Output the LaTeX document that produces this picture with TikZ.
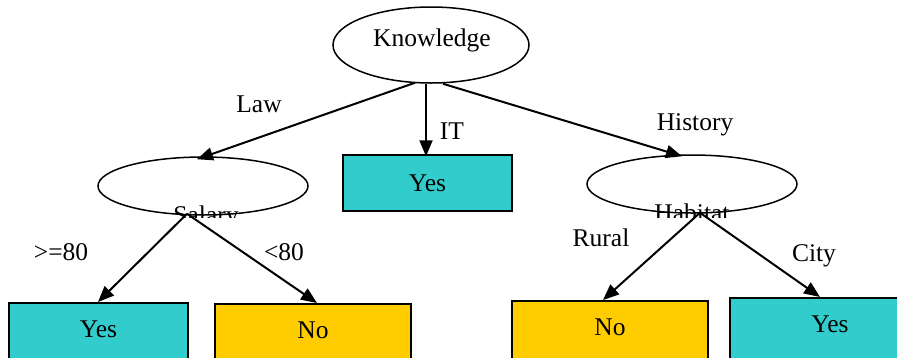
\documentclass[tikz,border=0pt]{standalone}
\usepackage{fontspec}
\setmainfont{Liberation Serif}
\usetikzlibrary{shapes.geometric,arrows.meta}
\definecolor{teal}{HTML}{33CCCC}
\definecolor{gold}{HTML}{FFCC00}
\begin{document}
\begin{tikzpicture}[x=1pt,y=-1pt,
  every node/.style={font=\fontsize{25.5}{30}\selectfont},
  ell/.style={ellipse,draw,line width=1.5pt,inner sep=0pt,fill=white},
  leaf/.style={rectangle,draw,line width=1.5pt,inner sep=0pt,minimum height=56pt},
  cutleaf/.style={rectangle,draw,line width=1.5pt,inner sep=0pt,anchor=north,text height=35pt,text depth=32pt},
  yesbox/.style={leaf,fill=teal},
  arr/.style={line width=2pt,-{Triangle[length=16pt,width=13pt]}},
  lbl/.style={inner sep=0pt}]
\useasboundingbox (0,0) rectangle (897,357);
\clip (0,0) rectangle (897,357);
% nodes
\node[ell,minimum width=196pt,minimum height=76pt] (know) at (431,45) {};
\node (knowtext) at (432,40) {Knowledge};
\node[ell,minimum width=210pt,minimum height=58pt] (salary) at (203,186) {};
\node[ell,minimum width=210pt,minimum height=58pt] (habitat) at (692,184) {};
\begin{scope}
  \clip (0,150) rectangle (897,217);
  \node[lbl,anchor=north] (salarytext) at (206,206) {Salary};
  \node[lbl,anchor=north] (habitattext) at (692,204) {Habitat};
\end{scope}
\node[yesbox,minimum width=169pt] (it) at (427.5,183) {Yes};
\node[cutleaf,fill=teal,minimum width=179pt] (yes1) at (98.5,302) {Yes};
\node[cutleaf,fill=gold,minimum width=196pt] (no1) at (313,303) {No};
\node[cutleaf,fill=gold,minimum width=196pt] (no2) at (610,300) {No};
\node[cutleaf,fill=teal,minimum width=200pt] (yes2) at (830,297) {Yes};
% connectors
\draw[arr] ([xshift=-16pt,yshift=1pt]know.south) -- ([xshift=-6pt,yshift=-3pt]salary.north);
\draw[arr] ([xshift=-5pt]know.south) -- ([xshift=-1.5pt,yshift=-2pt]it.north);
\draw[arr] ([xshift=12pt]know.south) -- ([xshift=-10pt,yshift=-2pt]habitat.north);
\draw[arr] ([xshift=-16pt,yshift=2pt]salary.south) -- ([xshift=-0.5pt]yes1.north);
\draw[arr] ([xshift=-16pt,yshift=2pt]salary.south) -- ([xshift=4pt]no1.north);
\draw[arr] ([xshift=8pt,yshift=1pt]habitat.south) -- ([xshift=-7pt]no2.north);
\draw[arr] ([xshift=8pt,yshift=1pt]habitat.south) -- ([xshift=-10pt]yes2.north);
% labels
\node (law) at (259,104) {Law};
\node (itl) at (452,131) {IT};
\node (hist) at (695,125) {History};
\node (ge) at (61,252) {>=80};
\node (lt) at (284,252) {<80};
\node (rural) at (601,238) {Rural};
\node (city) at (814,256) {City};
\end{tikzpicture}
\end{document}
